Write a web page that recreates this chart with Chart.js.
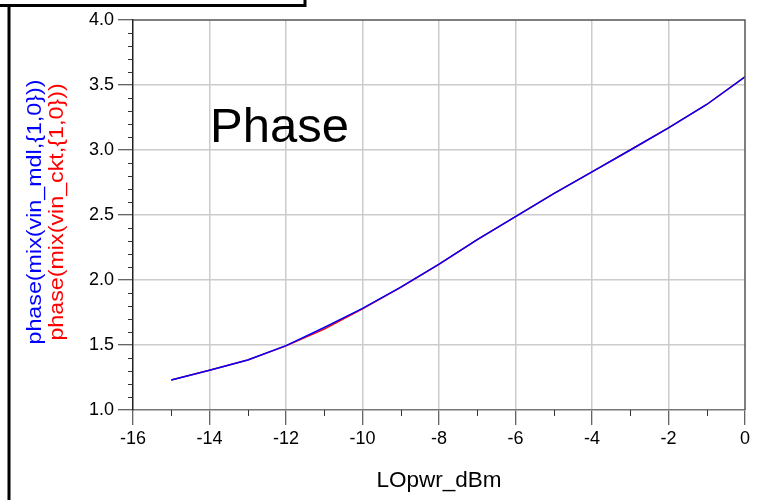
<!DOCTYPE html>
<html lang="en">
<head>
    <meta charset="UTF-8">
    <title>Phase vs LOpwr_dBm</title>
    <script src="https://cdn.jsdelivr.net/npm/chart.js"></script>
    <style>
        html, body { margin: 0; padding: 0; background: #fff; }
        #wrap { width: 761px; height: 500px; }
    </style>
</head>
<body>
<div id="wrap"><canvas id="phaseChart" width="761" height="500"></canvas></div>

<script>
    // LO power sweep (dBm) and the phase of the mixer output, model vs circuit
    const loPwr = [-15, -14, -13, -12, -11, -10, -9, -8, -7, -6, -5, -4, -3, -2, -1, 0];
    const phaseMdl = [1.23, 1.305, 1.385, 1.495, 1.635, 1.782, 1.945, 2.122, 2.31, 2.488, 2.665, 2.831, 3.0, 3.17, 3.35, 3.563];
    const phaseCkt = [1.23, 1.305, 1.385, 1.493, 1.622, 1.778, 1.943, 2.121, 2.31, 2.488, 2.665, 2.831, 3.0, 3.17, 3.35, 3.563];

    const xTicks = [-16, -14, -12, -10, -8, -6, -4, -2, 0];
    const yTicks = ['1.0', '1.5', '2.0', '2.5', '3.0', '3.5', '4.0'];

    const FONT = "'Liberation Sans', Arial, sans-serif";

    const toPoints = ys => loPwr.map((x, i) => ({ x: x, y: ys[i] }));

    // frame, plot border, minor ticks and the text annotations
    const decorations = {
        id: 'decorations',
        afterDraw(chart) {
            const c = chart.ctx;
            const a = chart.chartArea;
            const xs = chart.scales.x;
            const ys = chart.scales.y;
            c.save();

            // minor ticks
            c.strokeStyle = '#333';
            c.lineWidth = 1;
            c.beginPath();
            for (let v = 11; v < 40; v++) {
                if (v % 5 === 0) continue;
                const py = Math.round(ys.getPixelForValue(v / 10)) + 0.5;
                c.moveTo(a.left - 5, py);
                c.lineTo(a.left, py);
            }
            for (let v = -15; v < 0; v += 2) {
                const px = Math.round(xs.getPixelForValue(v)) + 0.5;
                c.moveTo(px, a.bottom);
                c.lineTo(px, a.bottom + 6);
            }
            c.stroke();

            // top and right border of the plot
            c.strokeStyle = '#555';
            c.lineWidth = 1.5;
            c.beginPath();
            c.moveTo(a.left, a.top);
            c.lineTo(a.right, a.top);
            c.lineTo(a.right, a.bottom);
            c.stroke();

            // outer window frame
            c.strokeStyle = '#000';
            c.lineWidth = 3;
            c.beginPath();
            c.moveTo(305, 0);
            c.lineTo(305, 5.5);
            c.lineTo(0, 5.5);
            c.moveTo(9, 5.5);
            c.lineTo(9, 500);
            c.stroke();

            // big annotation
            c.fillStyle = '#000';
            c.font = '49px ' + FONT;
            c.textAlign = 'left';
            c.textBaseline = 'alphabetic';
            c.fillText('Phase', 210, 142);

            // y axis titles, two coloured lines, stretched along the text
            c.font = '20px ' + FONT;
            c.textAlign = 'center';
            c.save();
            c.translate(41, 212);
            c.rotate(-Math.PI / 2);
            const stretch = 265 / c.measureText('phase(mix(vin_mdl,{1,0}))').width;
            c.scale(stretch, 1);
            c.fillStyle = '#0000ff';
            c.fillText('phase(mix(vin_mdl,{1,0}))', 0, 0);
            c.fillStyle = '#ff0000';
            c.fillText('phase(mix(vin_ckt,{1,0}))', 0, 22);
            c.restore();

            // x axis title
            c.fillStyle = '#000';
            c.font = '22.5px ' + FONT;
            c.fillText('LOpwr_dBm', (a.left + a.right) / 2, 487);

            c.restore();
        }
    };

    const ctx = document.getElementById('phaseChart').getContext('2d');

    new Chart(ctx, {
        type: 'line',
        data: {
            datasets: [{
                label: 'phase(mix(vin_mdl,{1,0}))',
                data: toPoints(phaseMdl),
                borderColor: '#0000ff',
                borderWidth: 1.5,
                pointRadius: 0,
                tension: 0,
                fill: false
            }, {
                label: 'phase(mix(vin_ckt,{1,0}))',
                data: toPoints(phaseCkt),
                borderColor: '#ff0000',
                borderWidth: 1.5,
                pointRadius: 0,
                tension: 0,
                fill: false
            }]
        },
        options: {
            responsive: false,
            animation: false,
            layout: { padding: { top: 20, right: 16, left: 0, bottom: 0 } },
            plugins: {
                legend: { display: false },
                tooltip: { enabled: false }
            },
            scales: {
                x: {
                    type: 'linear',
                    min: xTicks[0],
                    max: xTicks[xTicks.length - 1],
                    afterBuildTicks: s => { s.ticks = xTicks.map(v => ({ value: v })); },
                    afterFit: s => { s.height = 90; },
                    ticks: {
                        color: '#000',
                        font: { family: FONT, size: 18 },
                        padding: 3,
                        maxRotation: 0,
                        callback: v => String(v)
                    },
                    grid: {
                        color: c => (c.tick && (c.tick.value === xTicks[0] || c.tick.value === xTicks[xTicks.length - 1])) ? 'rgba(0,0,0,0)' : '#cccccc',
                        lineWidth: 1.5,
                        tickLength: 15,
                        tickColor: '#333',
                        tickWidth: 1
                    },
                    border: { color: '#777', width: 1.5 }
                },
                y: {
                    min: 1,
                    max: 4,
                    afterBuildTicks: s => { s.ticks = yTicks.map(t => ({ value: parseFloat(t) })); },
                    afterFit: s => { s.width = 133; },
                    ticks: {
                        color: '#000',
                        font: { family: FONT, size: 18 },
                        padding: 4,
                        callback: v => v.toFixed(1)
                    },
                    grid: {
                        color: c => (c.tick && (c.tick.value === 1 || c.tick.value === 4)) ? 'rgba(0,0,0,0)' : '#cccccc',
                        lineWidth: 1.5,
                        tickLength: 15,
                        tickColor: '#333',
                        tickWidth: 1
                    },
                    border: { color: '#222', width: 1.5 }
                }
            }
        },
        plugins: [decorations]
    });
</script>
</body>
</html>
